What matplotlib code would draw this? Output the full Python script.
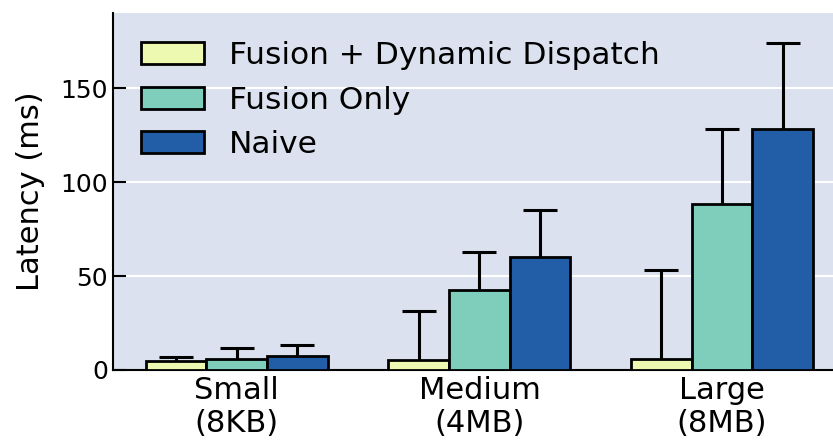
import numpy as np
import matplotlib.pyplot as plt

# data
groups = ["Small\n(8KB)", "Medium\n(4MB)", "Large\n(8MB)"]
series = ["Fusion + Dynamic Dispatch", "Fusion Only", "Naive"]
colors = ["#edf8b1", "#7fcdbb", "#225ea8"]

fused_dispatch = [5.0, 5.3, 6.0]
fused_dispatch_err = [2.0, 26.0, 47.0]
fusion_only = [6.0, 42.5, 88.5]
fusion_only_err = [5.5, 20.5, 39.5]
naive = [7.5, 60.0, 128.0]
naive_err = [6.0, 25.0, 46.0]

means = [fused_dispatch, fusion_only, naive]
errs = [fused_dispatch_err, fusion_only_err, naive_err]

# ── Plot ──────────────────────────────────────────────────────────────────────

fig = plt.figure(figsize=(8.33, 4.43), dpi=100)
ax = fig.add_axes([0.1357, 0.1648, 0.8643, 0.8059])
ax.set_facecolor("#dbe1ef")

x = np.arange(len(groups))
width = 0.25

for i, (name, col) in enumerate(zip(series, colors)):
    pos = x + (i - 1) * width
    bc = ax.bar(pos, means[i], width, color=col, edgecolor="black", lw=2,
                label=name, zorder=3,
                yerr=[np.zeros(len(groups)), errs[i]],
                error_kw=dict(ecolor="black", elinewidth=2.2, capsize=12,
                              capthick=2.2, zorder=4))
    # one-sided bars: hide the lower caps sitting on the bar tops
    caps = bc.errorbar.lines[1]
    caps[0].set_visible(False)

ax.set_xlim(-0.51, 2.457)
ax.set_ylim(0, 190)
ax.set_yticks([0, 50, 100, 150])
ax.set_xticks(x)
ax.set_xticklabels(groups, fontsize=22)
ax.tick_params(axis="y", direction="in", length=9, width=1.5, labelsize=18)
ax.tick_params(axis="x", length=0, pad=4)
ax.set_ylabel("Latency (ms)", fontsize=22, labelpad=11)

ax.grid(axis="y", color="white", lw=1.5, zorder=0)
ax.set_axisbelow(True)
for s in ["top", "right"]:
    ax.spines[s].set_visible(False)
for s in ["left", "bottom"]:
    ax.spines[s].set_linewidth(1.5)
    ax.spines[s].set_color("black")

ax.legend(loc="upper left", frameon=False, fontsize=22.5)

fig.savefig("out.png", dpi=100)
